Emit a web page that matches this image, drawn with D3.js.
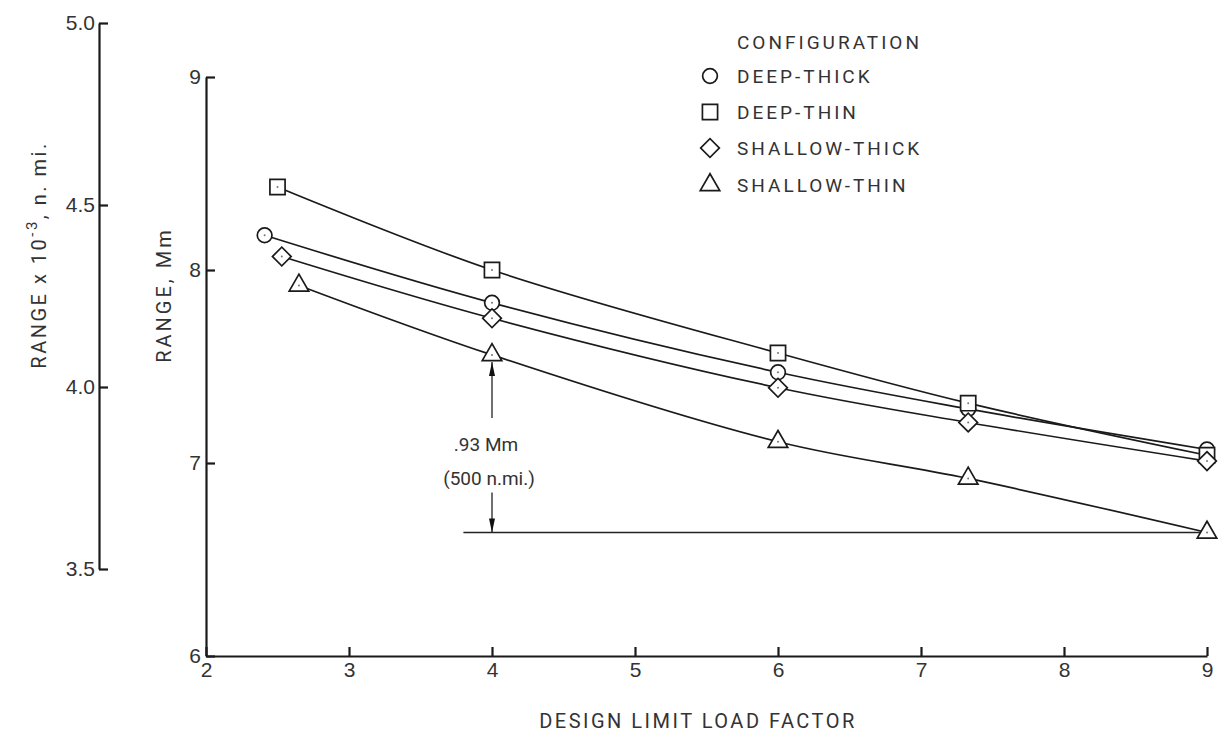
<!DOCTYPE html>
<html>
<head>
<meta charset="utf-8">
<script src="https://cdn.jsdelivr.net/npm/d3@7"></script>
<style>
  body { margin: 0; padding: 0; background: #fff; }
  svg { display: block; font-family: Roboto, "DejaVu Sans", sans-serif; }
  .axis path, .axis line { stroke: #1a1a1a; stroke-width: 2.2; }
  .axis text { fill: #333; font-size: 21px; }
  .lbl { fill: #333; }
</style>
</head>
<body>
<div id="main"></div>
<script>
// values (range in Mm vs design limit load factor)
const configNames = ['DEEP-THICK', 'DEEP-THIN', 'SHALLOW-THICK', 'SHALLOW-THIN'];
const deepThickX = [2.41, 4, 6, 7.33, 9];
const deepThickY = [8.18, 7.83, 7.47, 7.28, 7.07];
const deepThinX = [2.5, 4, 6, 7.33, 9];
const deepThinY = [8.43, 8.0, 7.57, 7.31, 7.04];
const shallowThickX = [2.53, 4, 6, 7.33, 9];
const shallowThickY = [8.07, 7.75, 7.39, 7.21, 7.01];
const shallowThinX = [2.65, 4, 6, 7.33, 9];
const shallowThinY = [7.92, 7.56, 7.11, 6.92, 6.64];
const xTicks = [2, 3, 4, 5, 6, 7, 8, 9];
const mmTicks = [6, 7, 8, 9];
const nmiTicks = [3.5, 4.0, 4.5, 5.0];
const refLineX = [3.8, 9];
const refLineY = 6.64;
const annotX = 4;
const annotText = ['.93 Mm', '(500 n.mi.)'];

const WIDTH = 1219, HEIGHT = 739;
const series = [
    {name: configNames[0], xs: deepThickX, ys: deepThickY, shape: 'circle'},
    {name: configNames[1], xs: deepThinX, ys: deepThinY, shape: 'square'},
    {name: configNames[2], xs: shallowThickX, ys: shallowThickY, shape: 'diamond'},
    {name: configNames[3], xs: shallowThinX, ys: shallowThinY, shape: 'triangle'}
];

const scaleX = d3.scaleLinear().domain([2, 9]).range([206, 1207]);
const scaleMm = d3.scaleLinear().domain([6, 9]).range([656, 77]);
const scaleNmi = d3.scaleLinear().domain([3.5, 5.0]).range([569, 23]);

const svg = d3.select('#main').append('svg').attr('width', WIDTH).attr('height', HEIGHT);

const symbolFor = (shape) => {
    if (shape === 'circle') return d3.symbol().type(d3.symbolCircle).size(170)();
    if (shape === 'square') return d3.symbol().type(d3.symbolSquare).size(230)();
    if (shape === 'diamond') return d3.symbol().type(d3.symbolSquare).size(175)();
    return d3.symbol().type(d3.symbolTriangle).size(165)();
};
const rotFor = (shape) => shape === 'diamond' ? ' rotate(45)' : '';

// axes
svg.append('g').attr('class', 'axis')
    .attr('transform', 'translate(99,0)')
    .call(d3.axisLeft(scaleNmi).tickValues(nmiTicks).tickFormat(d3.format('.1f')).tickSize(-9).tickSizeOuter(0).tickPadding(4));
svg.append('g').attr('class', 'axis')
    .attr('transform', 'translate(206,0)')
    .call(d3.axisLeft(scaleMm).tickValues(mmTicks).tickFormat(d3.format('d')).tickSize(-9).tickSizeOuter(0).tickPadding(5));
svg.append('g').attr('class', 'axis')
    .attr('transform', 'translate(0,656)')
    .call(d3.axisBottom(scaleX).tickValues(xTicks).tickFormat(d3.format('d')).tickSize(-9).tickSizeOuter(0).tickPadding(6));

// axis titles
const t1 = svg.append('text').attr('class', 'lbl').attr('transform', 'translate(46,255) rotate(-90)')
    .attr('text-anchor', 'middle').attr('font-size', 20).attr('letter-spacing', 2.5);
t1.append('tspan').text('RANGE x 10');
t1.append('tspan').attr('font-size', 15).attr('dy', -9).text('-3');
t1.append('tspan').attr('dy', 9).text(', n. mi.');
svg.append('text').attr('class', 'lbl').attr('transform', 'translate(171,295) rotate(-90)')
    .attr('text-anchor', 'middle').attr('font-size', 20).attr('letter-spacing', 3)
    .text('RANGE, Mm');
svg.append('text').attr('class', 'lbl').attr('x', 698).attr('y', 728)
    .attr('text-anchor', 'middle').attr('font-size', 20)
    .attr('letter-spacing', 2.5).text('DESIGN LIMIT LOAD FACTOR');

// reference line and .93 Mm annotation
svg.append('line')
    .attr('x1', scaleX(refLineX[0])).attr('x2', scaleX(refLineX[1]))
    .attr('y1', scaleMm(refLineY)).attr('y2', scaleMm(refLineY))
    .attr('stroke', '#222').attr('stroke-width', 1.3);
const defs = svg.append('defs');
defs.append('marker').attr('id', 'arrow').attr('viewBox', '0 0 14 10')
    .attr('refX', 14).attr('refY', 5).attr('markerWidth', 14).attr('markerHeight', 10)
    .attr('markerUnits', 'userSpaceOnUse').attr('orient', 'auto')
    .append('path').attr('d', 'M0,2L14,5L0,8Z').attr('fill', '#111');
const ax = scaleX(annotX);
const topY = scaleMm(shallowThinY[1]) + 7;
const botY = scaleMm(refLineY);
svg.append('line').attr('x1', ax).attr('x2', ax).attr('y1', topY + 56).attr('y2', topY)
    .attr('stroke', '#222').attr('stroke-width', 1.3).attr('marker-end', 'url(#arrow)');
svg.append('line').attr('x1', ax).attr('x2', ax).attr('y1', botY - 40).attr('y2', botY)
    .attr('stroke', '#222').attr('stroke-width', 1.3).attr('marker-end', 'url(#arrow)');
svg.append('text').attr('class', 'lbl').attr('x', ax - 6).attr('y', 451).attr('text-anchor', 'middle')
    .attr('font-size', 19).text(annotText[0]);
svg.append('text').attr('class', 'lbl').attr('x', ax - 3).attr('y', 485).attr('text-anchor', 'middle')
    .attr('font-size', 19).text(annotText[1]);

// curves
const line = d3.line().x((d) => scaleX(d[0])).y((d) => scaleMm(d[1])).curve(d3.curveCatmullRom.alpha(0.5));
series.forEach((s) => {
    const pts = s.xs.map((x, i) => [x, s.ys[i]]);
    svg.append('path').datum(pts).attr('d', line)
        .attr('fill', 'none').attr('stroke', '#1a1a1a').attr('stroke-width', 1.7);
});
series.forEach((s) => {
    const pts = s.xs.map((x, i) => [x, s.ys[i]]);
    const g = svg.append('g');
    g.selectAll('path').data(pts).enter().append('path')
        .attr('d', symbolFor(s.shape))
        .attr('transform', (d) => `translate(${scaleX(d[0])},${scaleMm(d[1])})${rotFor(s.shape)}`)
        .attr('fill', '#fff').attr('stroke', '#1a1a1a').attr('stroke-width', 1.7);
    g.selectAll('circle').data(pts).enter().append('circle')
        .attr('cx', (d) => scaleX(d[0])).attr('cy', (d) => scaleMm(d[1])).attr('r', 1)
        .attr('fill', '#777');
});

// legend
const legend = svg.append('g').attr('transform', 'translate(710,0)');
legend.append('text').attr('class', 'lbl').attr('x', 27).attr('y', 49)
    .attr('font-size', 19).attr('letter-spacing', 3).text('CONFIGURATION');
const legendY = [76, 112, 148, 185];
series.forEach((s, i) => {
    legend.append('path').attr('d', symbolFor(s.shape))
        .attr('transform', `translate(0,${legendY[i]})${rotFor(s.shape)}`)
        .attr('fill', '#fff').attr('stroke', '#1a1a1a').attr('stroke-width', 1.7);
    legend.append('text').attr('class', 'lbl').attr('x', 27).attr('y', legendY[i] + 7)
        .attr('font-size', 19).attr('letter-spacing', 3).text(s.name);
});
</script>
</body>
</html>
